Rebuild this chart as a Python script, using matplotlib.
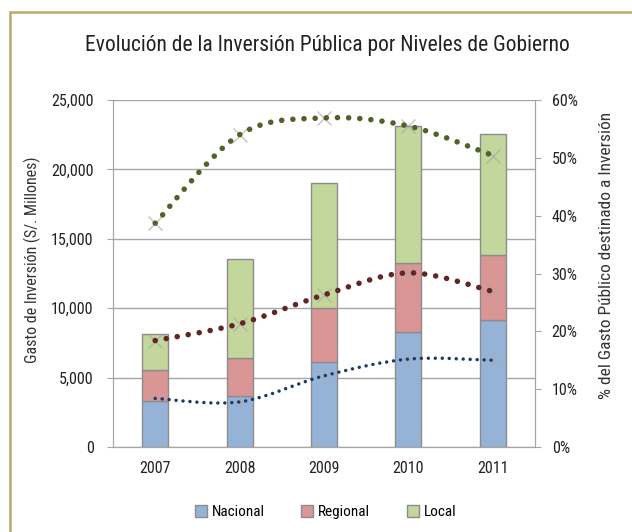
"""
Evolución de la Inversión Pública por Niveles de Gobierno: stacked bars + smoothed % lines.
"""

import matplotlib.pyplot as plt
from matplotlib.patches import PathPatch, Patch, Rectangle
from matplotlib.path import Path
from matplotlib.ticker import FuncFormatter

plt.rcParams["font.family"] = ["Liberation Sans Narrow", "Roboto Condensed",
                               "DejaVu Sans Condensed", "Liberation Sans", "DejaVu Sans"]

# --- Data ---------------------------------------------------------------------

years = ["2007", "2008", "2009", "2010", "2011"]
nacional = [3340, 3670, 6100, 8310, 9150]
regional = [2210, 2720, 3890, 4920, 4660]
local = [2570, 7130, 9030, 9920, 8760]

pct_local = [38.7, 54.0, 56.9, 55.5, 50.4]
pct_regional = [18.4, 21.3, 26.3, 30.1, 26.9]
pct_nacional = [8.4, 7.8, 12.3, 15.2, 15.0]

C_NAC = "#95b3d7"
C_REG = "#d99694"
C_LOC = "#c3d69b"
EDGE = "#8c8c8c"
GRID = "#a6a6a6"


def smooth_path(xs, ys):
    """Excel-like smoothed line as cubic Bezier segments through the points."""
    pts = list(zip(xs, ys))
    n = len(pts)
    verts = [pts[0]]
    codes = [Path.MOVETO]
    for i in range(n - 1):
        p0 = pts[i - 1] if i > 0 else pts[i]
        p1 = pts[i]
        p2 = pts[i + 1]
        p3 = pts[i + 2] if i + 2 < n else pts[i + 1]
        c1 = (p1[0] + (p2[0] - p0[0]) / 6, p1[1] + (p2[1] - p0[1]) / 6)
        c2 = (p2[0] - (p3[0] - p1[0]) / 6, p2[1] - (p3[1] - p1[1]) / 6)
        verts += [c1, c2, p2]
        codes += [Path.CURVE4] * 3
    return Path(verts, codes)


fig = plt.figure(figsize=(6.32, 5.32), dpi=100)
ax = fig.add_axes([113 / 632, 1 - 447 / 532, 422 / 632, 347 / 532])
ax2 = ax.twinx()

x = list(range(len(years)))
w = 0.31
bottom_reg = nacional
bottom_loc = [a + b for a, b in zip(nacional, regional)]
ax.bar(x, nacional, w, color=C_NAC, edgecolor=EDGE, linewidth=1, zorder=2)
ax.bar(x, regional, w, bottom=bottom_reg, color=C_REG, edgecolor=EDGE, linewidth=1, zorder=2)
ax.bar(x, local, w, bottom=bottom_loc, color=C_LOC, edgecolor=EDGE, linewidth=1, zorder=2)

ax.set_xlim(-0.5, 4.5)
ax.set_ylim(0, 25000)
ax.set_yticks(range(0, 25001, 5000))
ax.yaxis.set_major_formatter(FuncFormatter(lambda v, _: f"{int(v):,}"))
ax.set_xticks(x)
ax.set_xticklabels(years)
ax.grid(axis="y", color=GRID, linewidth=1, zorder=0)
ax.set_axisbelow(True)
for s in ["left", "bottom", "right", "top"]:
    ax.spines[s].set_color(GRID)
    ax2.spines[s].set_color(GRID)
ax.spines["top"].set_visible(False)
ax2.spines["top"].set_visible(False)
ax.tick_params(axis="y", length=4, color=GRID, labelsize=11.5, pad=10, labelcolor="#222222")
ax.tick_params(axis="x", length=0, labelsize=11.5, pad=10, labelcolor="#222222")
ax.set_ylabel("Gasto de Inversión (S/. Millones)", fontsize=11.5, color="#333333")
ax.yaxis.set_label_coords(-0.17, 0.54)

ax2.set_ylim(0, 60)
ax2.set_yticks(range(0, 61, 10))
ax2.yaxis.set_major_formatter(FuncFormatter(lambda v, _: f"{int(v)}%"))
ax2.tick_params(axis="y", length=4, color=GRID, labelsize=11.5, pad=8, labelcolor="#222222")
ax2.set_ylabel("% del Gasto Público destinado a Inversión", fontsize=12.5, color="#333333")
ax2.yaxis.set_label_coords(1.152, 0.553)

lines = [
    (pct_local, "#4f6228", 4.0, 2.0, "x"),
    (pct_regional, "#632523", 4.0, 2.0, "x"),
    (pct_nacional, "#1f3864", 2.5, 2.0, "+"),
]
for vals, col, lw, gap, mk in lines:
    ax2.plot(x, vals, linestyle="none", marker=mk, markersize=10, markeredgewidth=1,
             color="#a8a8a8", alpha=0.7, zorder=3)
    patch = PathPatch(smooth_path(x, vals), fill=False, edgecolor=col, linewidth=lw,
                      linestyle=(0, (0.01, gap)), capstyle="round", zorder=4)
    ax2.add_patch(patch)

fig.text(0.518, 1 - 45 / 532, "Evolución de la Inversión Pública por Niveles de Gobierno",
         ha="center", va="center", fontsize=15.5, color="#222222")

handles = [Patch(facecolor=c, edgecolor=EDGE) for c in (C_NAC, C_REG, C_LOC)]
fig.legend(handles, ["Nacional", "Regional", "Local"], loc="center",
           bbox_to_anchor=(0.515, 1 - 512 / 532), ncol=3, frameon=False, fontsize=11,
           handlelength=0.8, handleheight=0.8, handletextpad=0.3, columnspacing=2.4)

# olive frame around the chart (top and left edges visible)
fig.patches.append(Rectangle((9.5 / 632, -0.05), 1.1, 1 - 11.5 / 532 + 0.05,
                             transform=fig.transFigure, fill=False,
                             edgecolor="#b8ac6c", linewidth=1.8))

fig.savefig("out.png", dpi=100)
